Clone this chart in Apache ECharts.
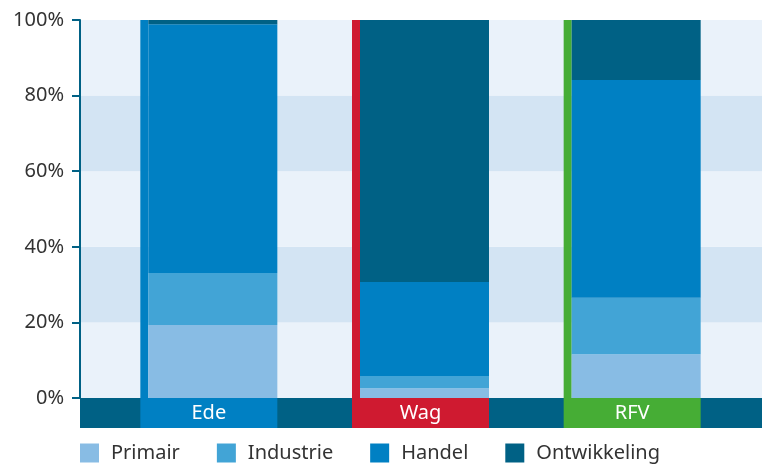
<!DOCTYPE html>
<html>
<head>
<meta charset="utf-8">
<script src="https://cdn.jsdelivr.net/npm/echarts@6/dist/echarts.min.js"></script>
<style>html,body{margin:0;padding:0;background:#fff}#c{width:762px;height:464px}</style>
</head>
<body>
<div id="c"></div>
<script>
var categories = ['Ede', 'Wag', 'RFV'];
var primair = [19.3, 2.6, 11.6];
var industrie = [13.8, 3.2, 14.9];
var handel = [65.8, 24.9, 57.6];
var ontwikkeling = [1.1, 69.3, 15.9];
var accent = [100, 100, 100];
var yTicks = [0, 20, 40, 60, 80, 100];
var accentColors = ['#0080c3', '#cf1a30', '#46ad35'];

var FONT = 'Noto Sans';
var chart = echarts.init(document.getElementById('c'), null, {renderer: 'canvas'});
var rich = {};
categories.forEach(function (c, i) {
  rich['c' + i] = {
    backgroundColor: accentColors[i], width: 137, height: 30, lineHeight: 30,
    align: 'center', color: '#ffffff', fontSize: 20, fontFamily: FONT
  };
});
chart.setOption({
  animation: false,
  backgroundColor: '#ffffff',
  textStyle: {fontFamily: FONT},
  grid: [
    {left: 80, right: 0, top: 20, bottom: 66},
    {left: 103, right: 24, top: 20, bottom: 66}
  ],
  legend: {
    data: ['Primair', 'Industrie', 'Handel', 'Ontwikkeling'],
    left: 75, top: 438, itemWidth: 19, itemHeight: 19, itemGap: 37, icon: 'rect',
    textStyle: {fontSize: 20, color: '#333', fontFamily: FONT, padding: [0, 0, 0, 7]}
  },
  xAxis: [
    {type: 'category', gridIndex: 0, data: categories, offset: 15,
     axisLine: {show: true, onZero: false, lineStyle: {color: '#006185', width: 30, cap: 'butt'}},
     axisTick: {show: false}, axisLabel: {show: false}, splitLine: {show: false}},
    {type: 'category', gridIndex: 1, data: categories, z: 10,
     axisLine: {show: false, onZero: false}, axisTick: {show: false},
     axisLabel: {margin: 0, interval: 0, rich: rich, fontSize: 20, color: '#fff',
       formatter: function (v, i) { return '{c' + i + '|' + v + '}'; }}}
  ],
  yAxis: [
    {type: 'value', gridIndex: 0, min: yTicks[0], max: yTicks[yTicks.length - 1], interval: 20,
     axisLine: {show: true, lineStyle: {color: '#006185', width: 2}},
     axisTick: {show: true, length: 8, lineStyle: {color: '#006185', width: 2}},
     axisLabel: {formatter: '{value}%', color: '#333', fontSize: 20, margin: 16, fontFamily: FONT},
     splitLine: {show: false},
     splitArea: {show: true, areaStyle: {color: ['#eaf2fa', '#d3e4f3']}}},
    {type: 'value', gridIndex: 1, min: 0, max: 100, show: false}
  ],
  series: [
    {name: 'accent', type: 'bar', xAxisIndex: 1, yAxisIndex: 1, stack: 'a', barWidth: 8, barGap: '0%',
     data: accent.map(function (v, i) { return {value: v, itemStyle: {color: accentColors[i]}}; })},
    {name: 'Primair', type: 'bar', xAxisIndex: 1, yAxisIndex: 1, stack: 'b', barWidth: 129, barGap: '0%',
     itemStyle: {color: '#88bce4'}, data: primair},
    {name: 'Industrie', type: 'bar', xAxisIndex: 1, yAxisIndex: 1, stack: 'b', barWidth: 129,
     itemStyle: {color: '#42a4d6'}, data: industrie},
    {name: 'Handel', type: 'bar', xAxisIndex: 1, yAxisIndex: 1, stack: 'b', barWidth: 129,
     itemStyle: {color: '#0080c3'}, data: handel},
    {name: 'Ontwikkeling', type: 'bar', xAxisIndex: 1, yAxisIndex: 1, stack: 'b', barWidth: 129,
     itemStyle: {color: '#006185'}, data: ontwikkeling}
  ]
});
</script>
</body>
</html>
